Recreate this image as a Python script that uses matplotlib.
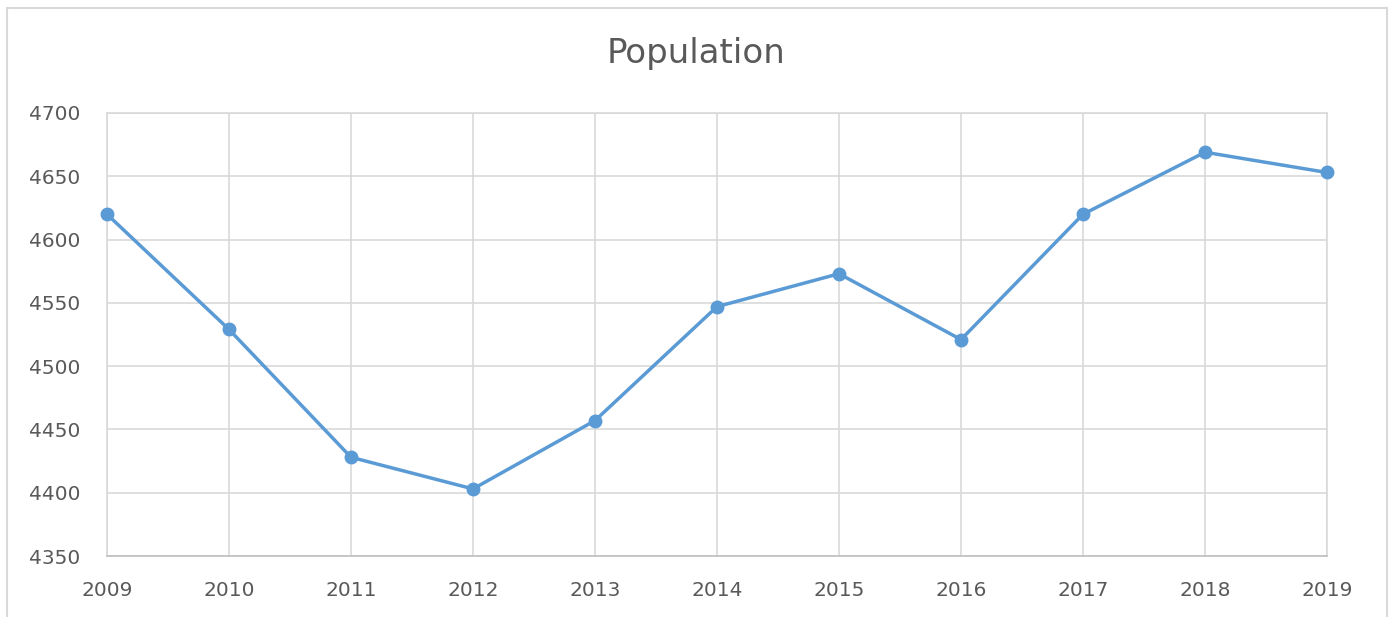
import matplotlib.pyplot as plt
from matplotlib.patches import Rectangle

years = [2009, 2010, 2011, 2012, 2013, 2014, 2015, 2016, 2017, 2018, 2019]
population = [4620, 4529, 4428, 4403, 4457, 4547, 4573, 4521, 4620, 4669, 4653]
yticks = [4350, 4400, 4450, 4500, 4550, 4600, 4650, 4700]

text_col = '#595959'
grid_col = '#d9d9d9'
line_col = '#5b9bd5'

fig = plt.figure(figsize=(13.92, 6.17), dpi=100)
# chart-area frame (bottom edge runs off the picture)
fig.patches.append(Rectangle((7 / 1392, -0.1), 1380 / 1392, 1.1 - 8 / 617,
                             transform=fig.transFigure, fill=False,
                             edgecolor=grid_col, linewidth=1.5))

ax = fig.add_axes([107 / 1392, 1 - 556 / 617, 1220 / 1392, 443 / 617])
ax.plot(years, population, color=line_col, linewidth=2.5,
        marker='o', markersize=9, zorder=3, clip_on=False)

ax.set_xlim(years[0], years[-1])
ax.set_ylim(yticks[0], yticks[-1])
ax.set_xticks(years)
ax.set_yticks(yticks)
ax.grid(True, color=grid_col, linewidth=1.2)
ax.set_axisbelow(True)
for s in ax.spines.values():
    s.set_color(grid_col)
    s.set_linewidth(1.2)
ax.spines['bottom'].set_color('#bfbfbf')
ax.tick_params(length=0, labelsize=14.5, colors=text_col)
ax.tick_params(axis='y', pad=19)
ax.tick_params(axis='x', pad=18)

fig.text(0.5, 1 - 54 / 617, 'Population', ha='center', va='center',
         fontsize=24.5, color=text_col)

fig.savefig('out.png', dpi=100)
